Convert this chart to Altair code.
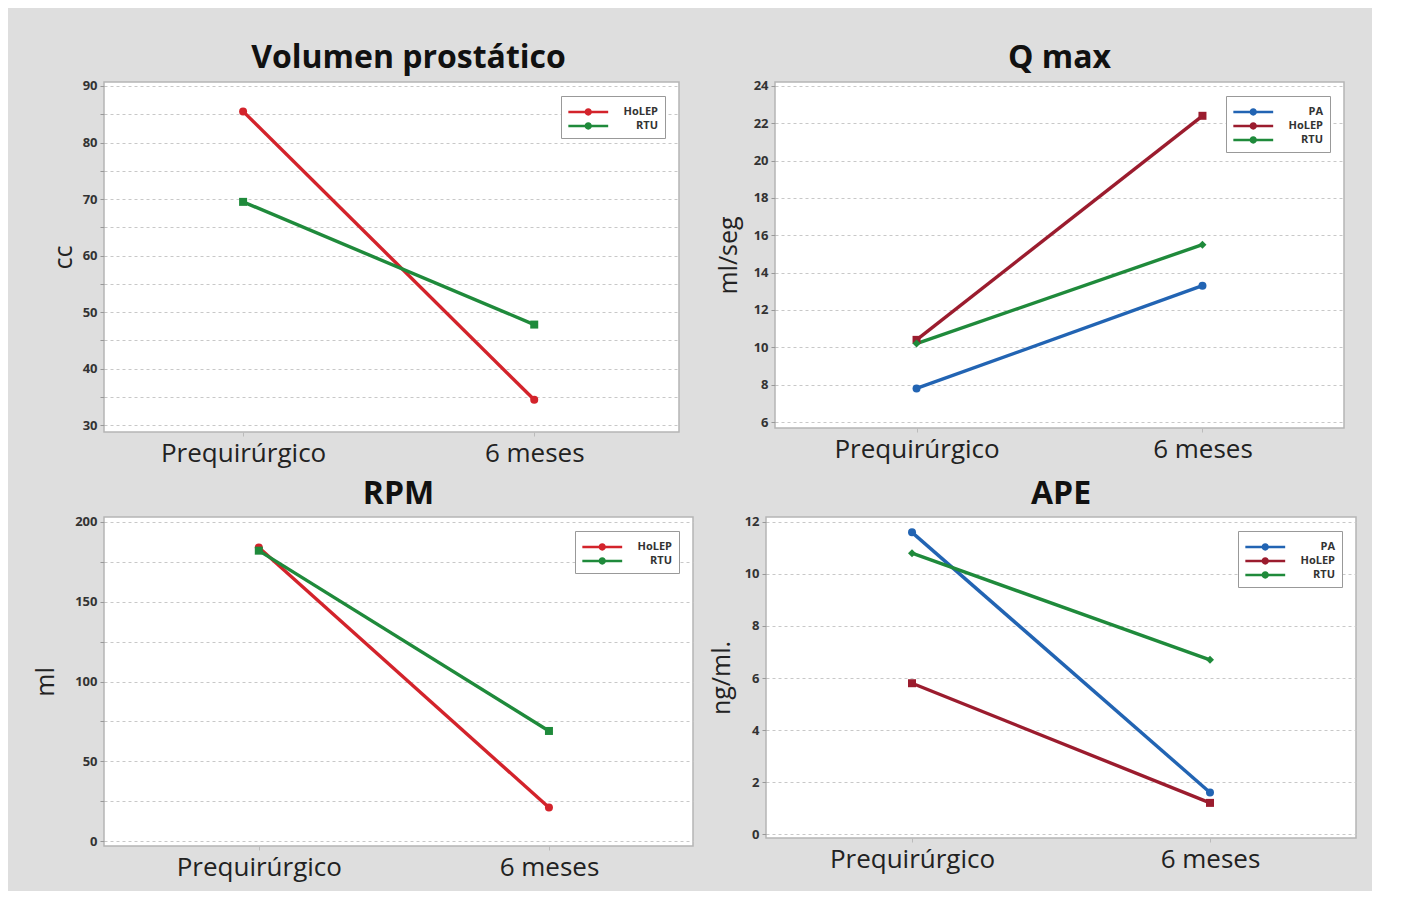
import altair as alt
import pandas as pd

periods = ["Prequirúrgico", "6 meses"]

# Volumen prostático (cc)
vol_groups = ["HoLEP", "RTU"]
vol_holep = [85.5, 34.5]
vol_rtu = [69.5, 47.8]

# Q max (ml/seg)
qmax_groups = ["PA", "HoLEP", "RTU"]
qmax_pa = [7.8, 13.3]
qmax_holep = [10.4, 22.4]
qmax_rtu = [10.2, 15.5]

# RPM (ml)
rpm_groups = ["HoLEP", "RTU"]
rpm_holep = [184, 21]
rpm_rtu = [182, 69]

# APE (ng/ml.)
ape_groups = ["PA", "HoLEP", "RTU"]
ape_pa = [11.6, 1.6]
ape_holep = [5.8, 1.2]
ape_rtu = [10.8, 6.7]

FONT = "Open Sans"
BRIGHT_RED = "#d3232b"
DARK_RED = "#9b1c2e"
GREEN = "#1f8a3b"
BLUE = "#2264b3"

LEGEND_PATH = ("M-1,-0.15H3.6V0.15H-1Z "
               "M1.3,-0.42A0.42,0.42 0 1,1 1.3,0.42A0.42,0.42 0 1,1 1.3,-0.42Z")


def make_df(groups, series):
    rows = []
    for g, vals in zip(groups, series):
        for p, v in zip(periods, vals):
            rows.append({"grupo": g, "periodo": p, "valor": v})
    return pd.DataFrame(rows)


def panel(title, ylabel, groups, series, colors, shapes, domain, grid_vals,
          label_step, w, h, title_offset, ylabel_pad, xpad, xalign, title_dx=0):
    df = make_df(groups, series)
    x = alt.X("periodo:N", sort=periods, title=None,
              scale=alt.Scale(type="point", padding=xpad, align=xalign),
              axis=alt.Axis(labelAngle=0, labelFontSize=26, labelFont=FONT,
                            labelColor="#222", labelPadding=4, ticks=True,
                            tickSize=4, tickColor="#bbb", domain=False,
                            grid=False))
    y = alt.Y("valor:Q", title=ylabel,
              scale=alt.Scale(domain=domain, nice=False, zero=False),
              axis=alt.Axis(values=grid_vals,
                            labelExpr=f"datum.value % {label_step} == 0 ? datum.label : ''",
                            labelFontSize=13, labelFont=FONT, labelColor="#333",
                            labelFontWeight="bold", labelPadding=3,
                            tickSize=4, tickColor="#999", domain=False,
                            grid=True, gridDash=[3, 3], gridColor="#c8c8c8",
                            gridWidth=1,
                            titleFontSize=25, titleFont=FONT,
                            titleFontWeight="normal", titleColor="#222",
                            titlePadding=ylabel_pad))
    color_scale = alt.Scale(domain=groups, range=colors)
    legend = alt.Legend(
        title=None, orient="top-right",
        symbolType=LEGEND_PATH, symbolSize=300,
        symbolStrokeWidth=0,
        labelFontSize=11, labelFont=FONT, labelAlign="right",
        labelFontWeight="bold", labelColor="#333",
        labelOffset=72, rowPadding=0,
        strokeColor="#999", fillColor="white",
        padding=7, offset=14)
    color = alt.Color("grupo:N", scale=color_scale, sort=groups, legend=legend)
    base = alt.Chart(df)
    layers = [base.mark_line(strokeWidth=3.4).encode(x=x, y=y, color=color)]
    for g, shp in zip(groups, shapes):
        layers.append(
            base.transform_filter(alt.datum.grupo == g)
            .mark_point(filled=True, size=64, opacity=1, shape=shp)
            .encode(x=x, y=y, color=color)
        )
    return alt.layer(*layers).properties(
        width=w, height=h,
        title=alt.TitleParams(title, fontSize=32, font=FONT, fontWeight="bold",
                              color="#111", offset=title_offset, dx=title_dx),
    )


p1 = panel("Volumen prostático", "cc", vol_groups, [vol_holep, vol_rtu],
           [BRIGHT_RED, GREEN], ["circle", "square"], [28.8, 90.7],
           list(range(30, 91, 5)), 10, 575, 350, 5, 6, 0.4875, 0.49,
           title_dx=17)
p2 = panel("Q max", "ml/seg", qmax_groups, [qmax_pa, qmax_holep, qmax_rtu],
           [BLUE, DARK_RED, GREEN], ["circle", "square", "diamond"],
           [5.68, 24.21], list(range(6, 25, 2)), 2, 569, 346, 5, 12,
           0.495, 0.5)
p3 = panel("RPM", "ml", rpm_groups, [rpm_holep, rpm_rtu],
           [BRIGHT_RED, GREEN], ["circle", "square"], [-3.1, 203.1],
           list(range(0, 201, 25)), 50, 589, 329, 5, 16, 0.515, 0.518)
p4 = panel("APE", "ng/ml.", ape_groups, [ape_pa, ape_holep, ape_rtu],
           [BLUE, DARK_RED, GREEN], ["circle", "square", "diamond"],
           [-0.15, 12.19], list(range(0, 13, 2)), 2, 590, 321, 5, 10,
           0.49, 0.5)

row1 = alt.hconcat(p1, p2, spacing=35).resolve_scale(color="independent")
row2 = alt.hconcat(p3, p4, spacing=14).resolve_scale(color="independent")

chart = alt.vconcat(row1, row2, spacing=10).resolve_scale(
    color="independent"
).configure(
    background="#dedede",
    padding={"left": 24, "top": 33, "right": 15, "bottom": 10},
).configure_view(
    stroke="#b5b5b5", strokeWidth=1.5, fill="white"
)

chart.save("out.html", embed_options={"renderer": "svg", "actions": False})
